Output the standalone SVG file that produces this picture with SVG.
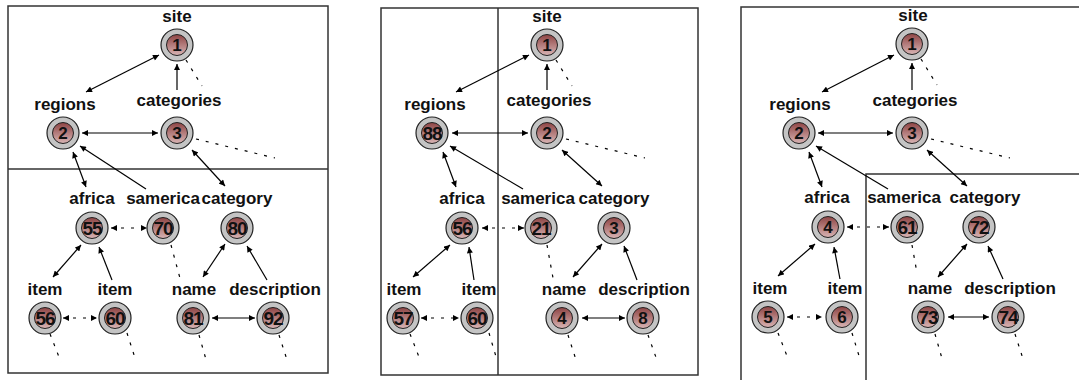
<svg xmlns="http://www.w3.org/2000/svg" width="1079" height="380" viewBox="0 0 1079 380">
<defs>
<linearGradient id="ig" x1="0" y1="0" x2="0" y2="1">
<stop offset="0" stop-color="#8e4444"/>
<stop offset="1" stop-color="#d8b4b4"/>
</linearGradient>
<marker id="ah" viewBox="0 0 10 10" refX="10" refY="5" markerWidth="7" markerHeight="6" orient="auto-start-reverse" markerUnits="userSpaceOnUse">
<path d="M0,0 L10,5 L0,10 z" fill="#000"/>
</marker>
</defs>
<style>
.frame{fill:none;stroke:#333;stroke-width:1.5}
.outer{fill:#c4c4c4;stroke:#222;stroke-width:1.2}
.inner{fill:url(#ig);stroke:#222;stroke-width:1}
.lbl{font-family:"Liberation Sans",Arial,sans-serif;font-weight:bold;font-size:17px;fill:#111;text-anchor:middle}
.num{font-family:"Liberation Sans",Arial,sans-serif;font-weight:bold;font-size:17px;fill:#111;text-anchor:middle}
.n2{font-size:19px;letter-spacing:-1px}
.e{fill:none;stroke:#000;stroke-width:1.2}
.b{marker-start:url(#ah);marker-end:url(#ah)}
.u{marker-end:url(#ah)}
.d{stroke-dasharray:3 7}
</style>
<rect width="1079" height="380" fill="#fff"/>
<g id="frames">
<rect class="frame" x="8" y="6" width="320" height="367"/>
<line class="frame" x1="8" y1="169" x2="328" y2="169"/>
<rect class="frame" x="381" y="8" width="317" height="367"/>
<line class="frame" x1="498" y1="8" x2="498" y2="375"/>
<polyline class="frame" points="741,382 741,7 1081,7"/>
<polyline class="frame" points="866,382 866,174 1081,174"/>
</g>
<g id="connectors">
<!-- panel 1 -->
<line class="e b" x1="159" y1="55" x2="86" y2="92"/>
<line class="e u" x1="177" y1="90" x2="177" y2="64"/>
<line class="e d" x1="186" y1="60" x2="202" y2="86"/>
<line class="e b" x1="82" y1="133" x2="158" y2="133"/>
<line class="e d" x1="196" y1="139" x2="275" y2="158"/>
<line class="e b" x1="73" y1="152" x2="86" y2="187"/>
<line class="e u" x1="146" y1="189" x2="80" y2="146"/>
<line class="e b" x1="192" y1="150" x2="225" y2="186"/>
<line class="e b d" x1="111" y1="228" x2="147" y2="228"/>
<line class="e b" x1="53" y1="277" x2="81" y2="245"/>
<line class="e u" x1="112" y1="280" x2="99" y2="247"/>
<line class="e d" x1="171" y1="245" x2="181" y2="282"/>
<line class="e b" x1="203" y1="277" x2="225" y2="244"/>
<line class="e u" x1="267" y1="280" x2="247" y2="246"/>
<line class="e b d" x1="63" y1="318" x2="97" y2="318"/>
<line class="e b" x1="212" y1="318" x2="255" y2="318"/>
<line class="e d" x1="50" y1="334" x2="61" y2="362"/>
<line class="e d" x1="127" y1="333" x2="135" y2="358"/>
<line class="e d" x1="199" y1="335" x2="207" y2="363"/>
<line class="e d" x1="279" y1="335" x2="288" y2="363"/>
<!-- panel 2 -->
<line class="e b" x1="529" y1="55" x2="456" y2="92"/>
<line class="e u" x1="547" y1="90" x2="547" y2="64"/>
<line class="e d" x1="556" y1="60" x2="572" y2="86"/>
<line class="e b" x1="452" y1="133" x2="528" y2="133"/>
<line class="e d" x1="566" y1="139" x2="645" y2="158"/>
<line class="e b" x1="443" y1="152" x2="456" y2="187"/>
<line class="e u" x1="523" y1="189" x2="450" y2="146"/>
<line class="e b" x1="562" y1="150" x2="602" y2="186"/>
<line class="e b d" x1="482" y1="228" x2="524" y2="228"/>
<line class="e b" x1="413" y1="277" x2="450" y2="245"/>
<line class="e u" x1="474" y1="280" x2="469" y2="247"/>
<line class="e d" x1="547" y1="245" x2="553" y2="278"/>
<line class="e b" x1="573" y1="277" x2="602" y2="244"/>
<line class="e u" x1="637" y1="280" x2="624" y2="246"/>
<line class="e b d" x1="421" y1="318" x2="459" y2="318"/>
<line class="e b" x1="582" y1="318" x2="625" y2="318"/>
<line class="e d" x1="410" y1="334" x2="421" y2="362"/>
<line class="e d" x1="489" y1="333" x2="497" y2="360"/>
<line class="e d" x1="568" y1="335" x2="577" y2="363"/>
<line class="e d" x1="648" y1="335" x2="658" y2="363"/>
<!-- panel 3 -->
<line class="e b" x1="894" y1="55" x2="822" y2="92"/>
<line class="e u" x1="912" y1="90" x2="912" y2="63"/>
<line class="e d" x1="921" y1="59" x2="937" y2="85"/>
<line class="e b" x1="818" y1="133" x2="893" y2="133"/>
<line class="e d" x1="931" y1="139" x2="1010" y2="158"/>
<line class="e b" x1="809" y1="152" x2="822" y2="187"/>
<line class="e u" x1="888" y1="189" x2="816" y2="146"/>
<line class="e b" x1="927" y1="150" x2="967" y2="186"/>
<line class="e b d" x1="847" y1="227" x2="889" y2="227"/>
<line class="e b" x1="778" y1="276" x2="815" y2="244"/>
<line class="e u" x1="840" y1="279" x2="834" y2="247"/>
<line class="e d" x1="912" y1="245" x2="917" y2="273"/>
<line class="e b" x1="938" y1="277" x2="967" y2="244"/>
<line class="e u" x1="1003" y1="279" x2="988" y2="246"/>
<line class="e b d" x1="787" y1="317" x2="822" y2="317"/>
<line class="e b" x1="948" y1="317" x2="989" y2="317"/>
<line class="e d" x1="778" y1="333" x2="789" y2="361"/>
<line class="e d" x1="852" y1="333" x2="860" y2="359"/>
<line class="e d" x1="935" y1="334" x2="943" y2="362"/>
<line class="e d" x1="1015" y1="334" x2="1024" y2="362"/>
</g>
<!-- panel 1 nodes -->
<g id="p1-site"><circle class="outer" cx="177" cy="45" r="16"/><circle class="inner" cx="177" cy="45" r="10.5"/><text class="num" x="177" y="51">1</text><text class="lbl" x="177" y="22">site</text></g>
<g id="p1-regions"><circle class="outer" cx="63" cy="133" r="16"/><circle class="inner" cx="63" cy="133" r="10.5"/><text class="num" x="63" y="139">2</text><text class="lbl" x="65" y="110">regions</text></g>
<g id="p1-categories"><circle class="outer" cx="177" cy="133" r="16"/><circle class="inner" cx="177" cy="133" r="10.5"/><text class="num" x="177" y="139">3</text><text class="lbl" x="179" y="106">categories</text></g>
<g id="p1-africa"><circle class="outer" cx="92" cy="228" r="16"/><circle class="inner" cx="92" cy="228" r="10.5"/><text class="num n2" x="92" y="235">55</text><text class="lbl" x="92" y="204">africa</text></g>
<g id="p1-samerica"><circle class="outer" cx="163" cy="228" r="16"/><circle class="inner" cx="163" cy="228" r="10.5"/><text class="num n2" x="163" y="235">70</text><text class="lbl" x="163" y="204">samerica</text></g>
<g id="p1-category"><circle class="outer" cx="237" cy="228" r="16"/><circle class="inner" cx="237" cy="228" r="10.5"/><text class="num n2" x="237" y="235">80</text><text class="lbl" x="237" y="204">category</text></g>
<g id="p1-item1"><circle class="outer" cx="45" cy="318" r="16"/><circle class="inner" cx="45" cy="318" r="10.5"/><text class="num n2" x="45" y="325">56</text><text class="lbl" x="45" y="295">item</text></g>
<g id="p1-item2"><circle class="outer" cx="115" cy="318" r="16"/><circle class="inner" cx="115" cy="318" r="10.5"/><text class="num n2" x="115" y="325">60</text><text class="lbl" x="115" y="295">item</text></g>
<g id="p1-name"><circle class="outer" cx="193" cy="318" r="16"/><circle class="inner" cx="193" cy="318" r="10.5"/><text class="num n2" x="193" y="325">81</text><text class="lbl" x="194" y="295">name</text></g>
<g id="p1-description"><circle class="outer" cx="273" cy="318" r="16"/><circle class="inner" cx="273" cy="318" r="10.5"/><text class="num n2" x="273" y="325">92</text><text class="lbl" x="275" y="295">description</text></g>
<!-- panel 2 nodes -->
<g id="p2-site"><circle class="outer" cx="547" cy="45" r="16"/><circle class="inner" cx="547" cy="45" r="10.5"/><text class="num" x="547" y="51">1</text><text class="lbl" x="547" y="22">site</text></g>
<g id="p2-regions"><circle class="outer" cx="432" cy="133" r="16"/><circle class="inner" cx="432" cy="133" r="10.5"/><text class="num n2" x="432" y="140">88</text><text class="lbl" x="435" y="110">regions</text></g>
<g id="p2-categories"><circle class="outer" cx="547" cy="133" r="16"/><circle class="inner" cx="547" cy="133" r="10.5"/><text class="num" x="547" y="139">2</text><text class="lbl" x="549" y="106">categories</text></g>
<g id="p2-africa"><circle class="outer" cx="462" cy="228" r="16"/><circle class="inner" cx="462" cy="228" r="10.5"/><text class="num n2" x="462" y="235">56</text><text class="lbl" x="462" y="204">africa</text></g>
<g id="p2-samerica"><circle class="outer" cx="541" cy="228" r="16"/><circle class="inner" cx="541" cy="228" r="10.5"/><text class="num n2" x="541" y="235">21</text><text class="lbl" x="538" y="204">samerica</text></g>
<g id="p2-category"><circle class="outer" cx="614" cy="228" r="16"/><circle class="inner" cx="614" cy="228" r="10.5"/><text class="num" x="614" y="234">3</text><text class="lbl" x="614" y="204">category</text></g>
<g id="p2-item1"><circle class="outer" cx="403" cy="318" r="16"/><circle class="inner" cx="403" cy="318" r="10.5"/><text class="num n2" x="403" y="325">57</text><text class="lbl" x="404" y="295">item</text></g>
<g id="p2-item2"><circle class="outer" cx="477" cy="318" r="16"/><circle class="inner" cx="477" cy="318" r="10.5"/><text class="num n2" x="477" y="325">60</text><text class="lbl" x="479" y="295">item</text></g>
<g id="p2-name"><circle class="outer" cx="562" cy="318" r="16"/><circle class="inner" cx="562" cy="318" r="10.5"/><text class="num" x="562" y="324">4</text><text class="lbl" x="564" y="295">name</text></g>
<g id="p2-description"><circle class="outer" cx="643" cy="318" r="16"/><circle class="inner" cx="643" cy="318" r="10.5"/><text class="num" x="643" y="324">8</text><text class="lbl" x="644" y="295">description</text></g>
<!-- panel 3 nodes -->
<g id="p3-site"><circle class="outer" cx="912" cy="44" r="16"/><circle class="inner" cx="912" cy="44" r="10.5"/><text class="num" x="912" y="50">1</text><text class="lbl" x="913" y="21">site</text></g>
<g id="p3-regions"><circle class="outer" cx="799" cy="133" r="16"/><circle class="inner" cx="799" cy="133" r="10.5"/><text class="num" x="799" y="139">2</text><text class="lbl" x="800" y="110">regions</text></g>
<g id="p3-categories"><circle class="outer" cx="912" cy="133" r="16"/><circle class="inner" cx="912" cy="133" r="10.5"/><text class="num" x="912" y="139">3</text><text class="lbl" x="915" y="106">categories</text></g>
<g id="p3-africa"><circle class="outer" cx="828" cy="227" r="16"/><circle class="inner" cx="828" cy="227" r="10.5"/><text class="num" x="828" y="233">4</text><text class="lbl" x="827" y="203">africa</text></g>
<g id="p3-samerica"><circle class="outer" cx="907" cy="227" r="16"/><circle class="inner" cx="907" cy="227" r="10.5"/><text class="num n2" x="907" y="234">61</text><text class="lbl" x="904" y="203">samerica</text></g>
<g id="p3-category"><circle class="outer" cx="979" cy="227" r="16"/><circle class="inner" cx="979" cy="227" r="10.5"/><text class="num n2" x="979" y="234">72</text><text class="lbl" x="985" y="203">category</text></g>
<g id="p3-item1"><circle class="outer" cx="768" cy="317" r="16"/><circle class="inner" cx="768" cy="317" r="10.5"/><text class="num" x="768" y="323">5</text><text class="lbl" x="770" y="294">item</text></g>
<g id="p3-item2"><circle class="outer" cx="842" cy="317" r="16"/><circle class="inner" cx="842" cy="317" r="10.5"/><text class="num" x="842" y="323">6</text><text class="lbl" x="845" y="294">item</text></g>
<g id="p3-name"><circle class="outer" cx="928" cy="317" r="16"/><circle class="inner" cx="928" cy="317" r="10.5"/><text class="num n2" x="928" y="324">73</text><text class="lbl" x="930" y="294">name</text></g>
<g id="p3-description"><circle class="outer" cx="1008" cy="317" r="16"/><circle class="inner" cx="1008" cy="317" r="10.5"/><text class="num n2" x="1008" y="324">74</text><text class="lbl" x="1010" y="294">description</text></g>
</svg>
